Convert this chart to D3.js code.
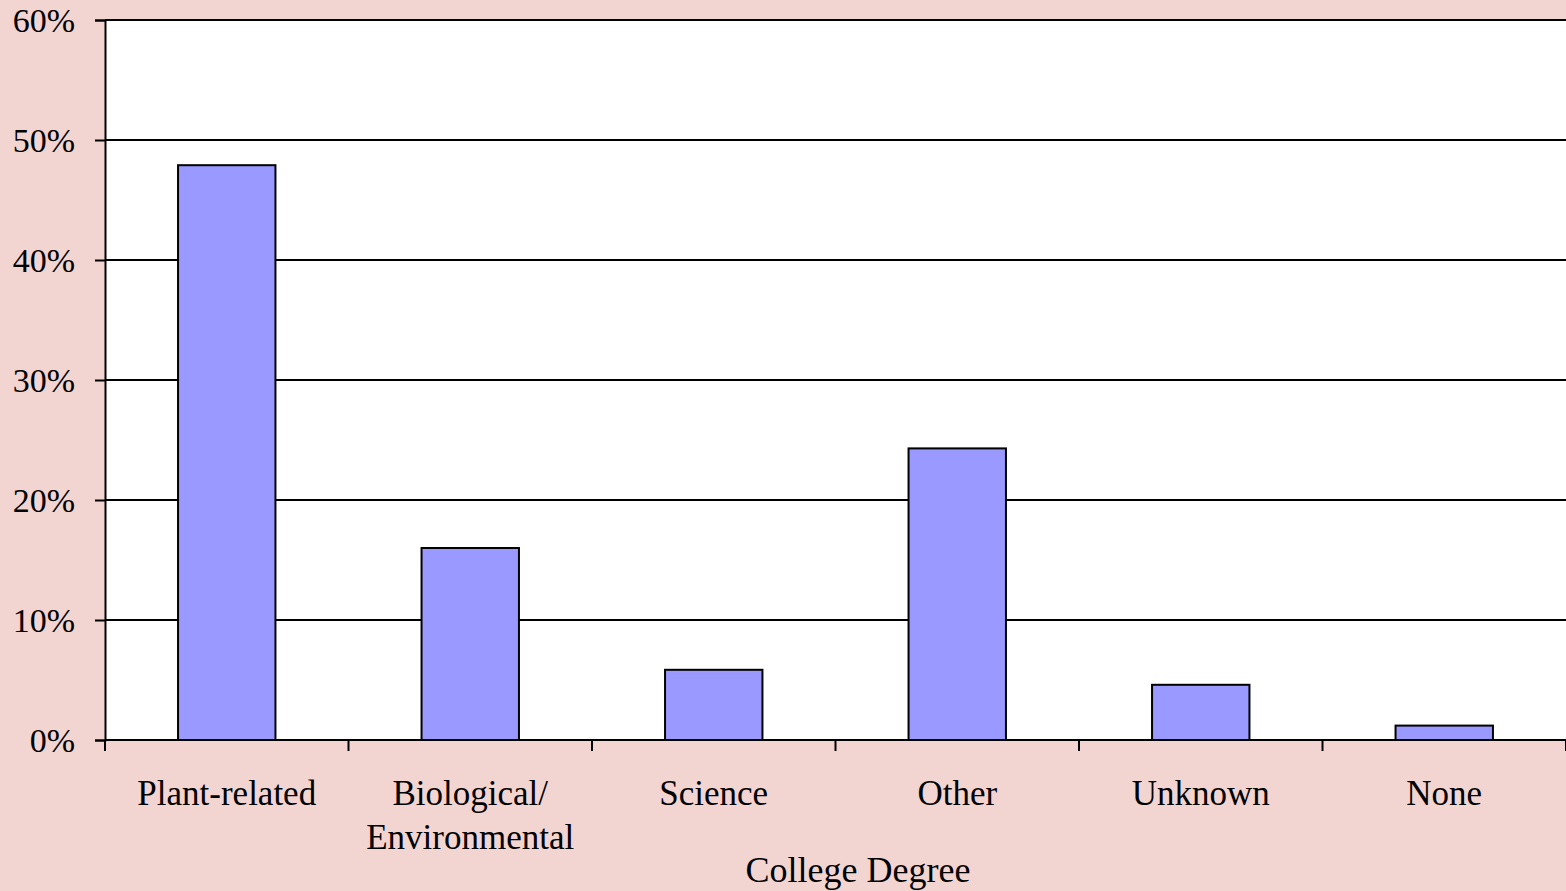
<!DOCTYPE html>
<html>
<head>
<meta charset="utf-8">
<script src="https://cdn.jsdelivr.net/npm/d3@7.9.0/dist/d3.min.js"></script>
<style>
  html, body { margin: 0; padding: 0; background: #f2d4d1; }
  svg { display: block; }
  text { font-family: "Liberation Serif", "Times New Roman", serif; fill: #000; }
</style>
</head>
<body>
<svg id="chart" width="1566" height="891"></svg>
<script>
const categories = ['Plant-related', 'Biological/\nEnvironmental', 'Science', 'Other', 'Unknown', 'None'];
const shares = [47.9, 16.0, 5.85, 24.3, 4.6, 1.2];
const yTicks = [0, 10, 20, 30, 40, 50, 60];
const xTitle = 'College Degree';

const width = 1566, height = 891;
const margin = { top: 20, right: 0, bottom: 151, left: 105 };

const svg = d3.select('#chart');
svg.append('rect').attr('width', width).attr('height', height).attr('fill', '#f2d4d1');

const x = d3.scaleBand()
  .domain(categories)
  .range([margin.left, width - margin.right])
  .paddingInner(0.6)
  .paddingOuter(0.3);

const y = d3.scaleLinear()
  .domain([0, 60])
  .range([height - margin.bottom, margin.top]);

// plot area
svg.append('rect')
  .attr('x', margin.left).attr('y', margin.top)
  .attr('width', width - margin.right - margin.left)
  .attr('height', y(0) - margin.top)
  .attr('fill', '#fff');

// gridlines
svg.append('g')
  .selectAll('line')
  .data(yTicks)
  .join('line')
  .attr('x1', margin.left).attr('x2', width - margin.right)
  .attr('y1', d => y(d)).attr('y2', d => y(d))
  .attr('stroke', '#000').attr('stroke-width', 2);

// bars
svg.append('g')
  .selectAll('rect')
  .data(categories)
  .join('rect')
  .attr('x', d => x(d))
  .attr('y', (d, i) => y(shares[i]))
  .attr('width', x.bandwidth())
  .attr('height', (d, i) => y(0) - y(shares[i]))
  .attr('fill', '#9999ff')
  .attr('stroke', '#000')
  .attr('stroke-width', 2);

// y axis
const yAxis = svg.append('g')
  .attr('transform', `translate(${margin.left},0)`)
  .call(d3.axisLeft(y).tickValues(yTicks).tickSize(10).tickPadding(20).tickFormat(d => d + '%'));
yAxis.select('.domain').attr('stroke', '#000').attr('stroke-width', 2);
yAxis.selectAll('.tick line').attr('stroke', '#000').attr('stroke-width', 2);
yAxis.selectAll('.tick text')
  .attr('font-size', 34)
  .attr('font-family', '"Liberation Serif", serif')
  .attr('dy', '0.34em');

// x axis: ticks at band boundaries
const step = x.step();
const boundaries = d3.range(categories.length + 1).map(i => margin.left + i * step);
svg.append('line')
  .attr('x1', margin.left).attr('x2', width - margin.right)
  .attr('y1', y(0)).attr('y2', y(0))
  .attr('stroke', '#000').attr('stroke-width', 2);
svg.append('g')
  .selectAll('line')
  .data(boundaries)
  .join('line')
  .attr('x1', d => d).attr('x2', d => d)
  .attr('y1', y(0)).attr('y2', y(0) + 11)
  .attr('stroke', '#000').attr('stroke-width', 2);

// category labels
const labels = svg.append('g')
  .selectAll('text')
  .data(categories)
  .join('text')
  .attr('text-anchor', 'middle')
  .attr('font-size', 35)
  .attr('x', d => x(d) + x.bandwidth() / 2)
  .attr('y', 805);
labels.selectAll('tspan')
  .data(d => d.split('\n'))
  .join('tspan')
  .attr('x', function () { return d3.select(this.parentNode).attr('x'); })
  .attr('dy', (d, i) => i === 0 ? 0 : 44)
  .text(d => d);

// axis title
svg.append('text')
  .attr('text-anchor', 'middle')
  .attr('font-size', 36)
  .attr('x', 858)
  .attr('y', 882)
  .text(xTitle);
</script>
</body>
</html>
